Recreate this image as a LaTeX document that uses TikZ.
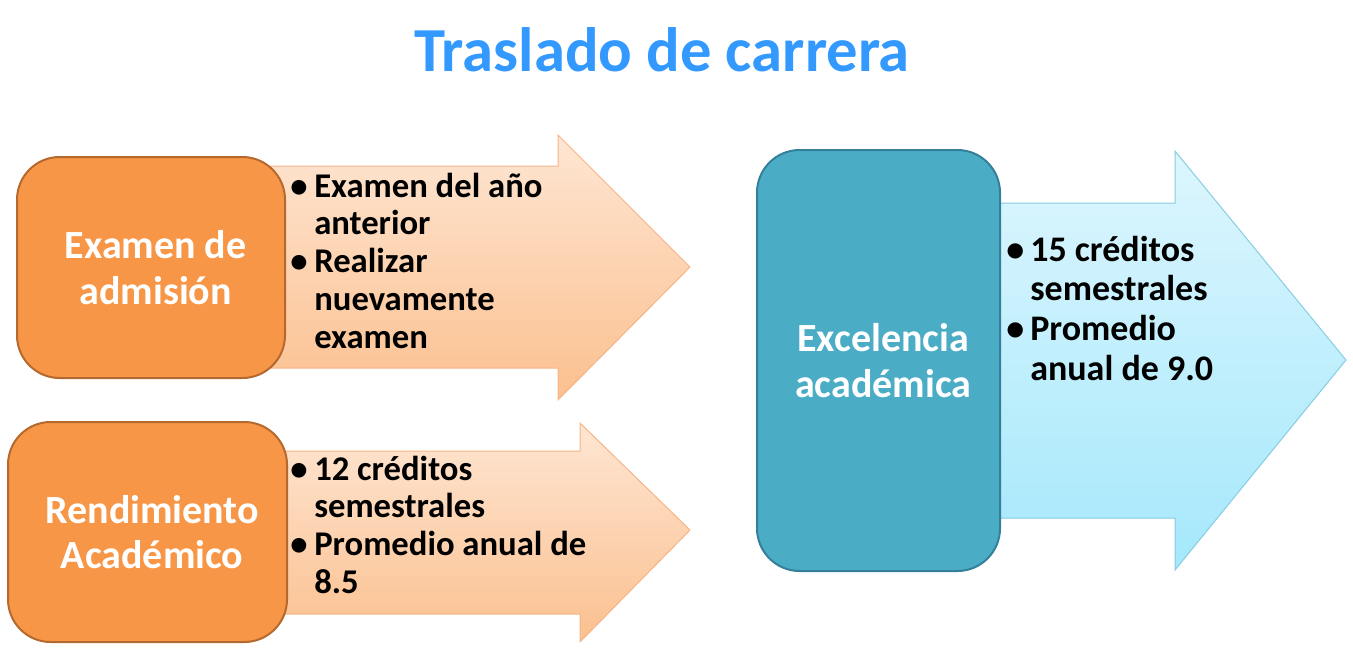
\documentclass[tikz,border=0pt]{standalone}
\usepackage{fontspec}
\setmainfont{Carlito}
\usetikzlibrary{positioning}
\definecolor{tctitle}{HTML}{3399FF}
\definecolor{tcorange}{HTML}{F79646}
\definecolor{tcorangeline}{HTML}{B6692E}
\definecolor{tcpeachtop}{HTML}{FEE6D3}
\definecolor{tcpeachbot}{HTML}{FBC08F}
\definecolor{tcpeachline}{HTML}{F6B487}
\definecolor{tcteal}{HTML}{4BACC6}
\definecolor{tctealline}{HTML}{34809A}
\definecolor{tcskytop}{HTML}{DDF6FD}
\definecolor{tcskybot}{HTML}{A5E8FC}
\definecolor{tcskyline}{HTML}{86CCE2}
\tikzset{
  tc box/.style={line width=1.5pt, rounded corners=32pt, align=center, inner sep=0pt,
    text=white, font=\fontsize{30pt}{34pt}\selectfont\bfseries},
  tc orange box/.style={tc box, draw=tcorangeline, fill=tcorange},
  tc teal box/.style={tc box, draw=tctealline, fill=tcteal},
  tc peach arrow/.style={draw=tcpeachline, line width=0.75pt, line join=miter,
    top color=tcpeachtop, bottom color=tcpeachbot},
  tc sky arrow/.style={draw=tcskyline, line width=0.75pt, line join=miter,
    top color=tcskytop, bottom color=tcskybot},
  tc list/.style={anchor=base west, inner sep=0pt, text=black,
    font=\fontsize{26pt}{28.4pt}\selectfont\bfseries},
  tc title/.style={anchor=base, inner sep=0pt, text=tctitle,
    font=\fontsize{47pt}{56pt}\selectfont\bfseries}
}
\newcommand{\tcitems}[1]{\begin{tabular}[t]{@{}p{18pt}@{}l@{}}#1\end{tabular}}
\newcommand{\tcin}{\hspace*{7pt}}

\begin{document}
\begin{tikzpicture}[x=0.75pt, y=-0.75pt]
  \useasboundingbox (0,0) rectangle (1353,657);
  \node[tc title] (title) at (662,71) {Traslado de carrera};

  \draw[tc peach arrow] (270,166) -- (558,166) -- (558,135) -- (690,267)
    -- (558,400) -- (558,368) -- (270,368) -- cycle;
  \draw[tc peach arrow] (270,451) -- (580,451) -- (580,423) -- (690,530)
    -- (580,642) -- (580,614) -- (270,614) -- cycle;
  \draw[tc sky arrow] (985,203) -- (1175,203) -- (1175,151) -- (1346,360)
    -- (1175,570) -- (1175,518) -- (985,518) -- cycle;

  \node[tc orange box, minimum width=201pt, minimum height=165.75pt] (adm) at (151,267.5)
    {\tcin Examen de\\\tcin admisión};
  \node[tc orange box, minimum width=209.25pt, minimum height=165pt] (rend) at (147.5,532)
    {\tcin Rendimiento\\\tcin Académico};
  \node[tc teal box, minimum width=182.25pt, minimum height=315.75pt] (exc) at (878.5,360.5)
    {\tcin Excelencia\\\tcin académica};

  \node[tc list] (admlist) at (290,197) {\tcitems{%
    \textbullet & Examen del año\\
     & anterior\\
    \textbullet & Realizar\\
     & nuevamente\\
     & examen}};
  \node[tc list] (rendlist) at (290,480) {\tcitems{%
    \textbullet & 12 créditos\\
     & semestrales\\
    \textbullet & Promedio anual de\\
     & 8.5}};
  \node[tc list, font=\fontsize{27pt}{29.8pt}\selectfont\bfseries] (exclist) at (1006,261) {\tcitems{%
    \textbullet & 15 créditos\\
     & semestrales\\
    \textbullet & Promedio\\
     & anual de 9.0}};
\end{tikzpicture}
\end{document}
